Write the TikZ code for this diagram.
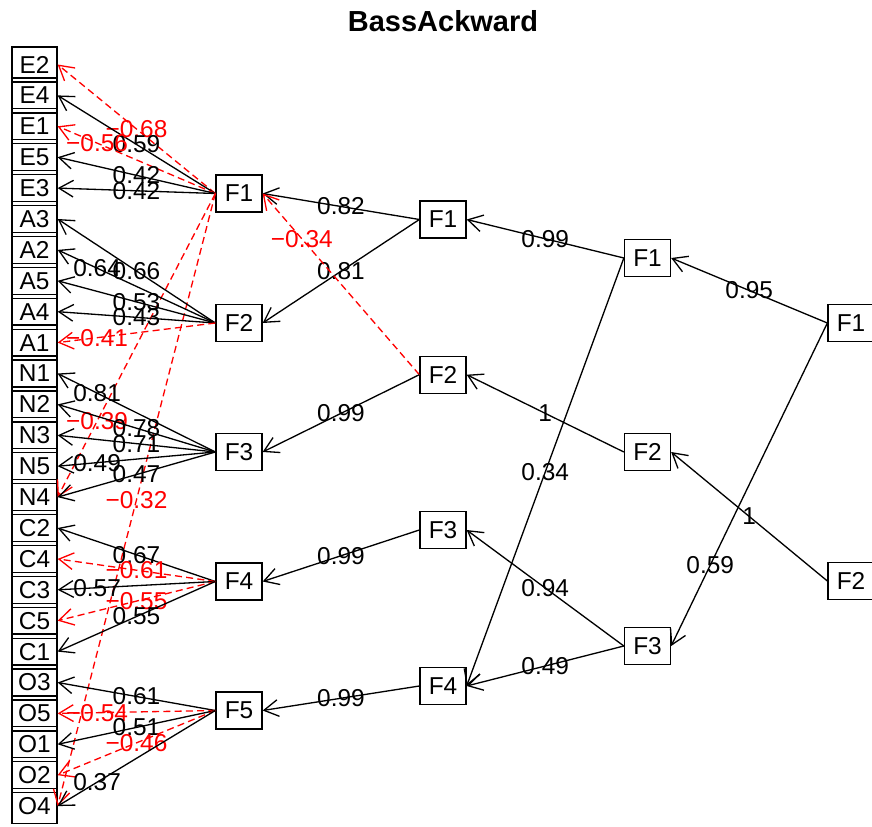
\documentclass[tikz,border=0pt]{standalone}
\usepackage{fontspec}
\setmainfont{Liberation Sans}
\usetikzlibrary{arrows.meta}

\begin{document}
\begin{tikzpicture}[x=0.02cm,y=-0.02cm,line width=0.75pt,font=\fontsize{13.9}{16}\selectfont]
	\tikzstyle{item}=[draw,inner sep=0pt,minimum width=0.9cm,minimum height=0.7cm];
	\tikzstyle{fac}=[draw,inner sep=0pt,minimum width=0.92cm,minimum height=0.74cm];
	\tikzstyle{load}=[-{Straight Barb[length=8.2pt,width=9.5pt]}];
	\tikzstyle{neg}=[load,red,dash pattern=on 4pt off 2.4pt];
%<--------------------------------------------------------------------------->%

	\path[use as bounding box,clip] (0,0) rectangle (872,827);
	\node[font=\fontsize{16.5}{20}\selectfont\bfseries] (title) at (443,21) {BassAckward};
	%% Items
	\node[item] (E2) at (34.5,64.5)  {E2};
	\node[item] (E4) at (34.5,95.4)  {E4};
	\node[item] (E1) at (34.5,126.3) {E1};
	\node[item] (E5) at (34.5,157.2) {E5};
	\node[item] (E3) at (34.5,188.1) {E3};
	\node[item] (A3) at (34.5,219.0) {A3};
	\node[item] (A2) at (34.5,249.9) {A2};
	\node[item] (A5) at (34.5,280.8) {A5};
	\node[item] (A4) at (34.5,311.7) {A4};
	\node[item] (A1) at (34.5,342.6) {A1};
	\node[item] (N1) at (34.5,373.5) {N1};
	\node[item] (N2) at (34.5,404.4) {N2};
	\node[item] (N3) at (34.5,435.3) {N3};
	\node[item] (N5) at (34.5,466.2) {N5};
	\node[item] (N4) at (34.5,497.1) {N4};
	\node[item] (C2) at (34.5,528.0) {C2};
	\node[item] (C4) at (34.5,558.9) {C4};
	\node[item] (C3) at (34.5,589.8) {C3};
	\node[item] (C5) at (34.5,620.7) {C5};
	\node[item] (C1) at (34.5,651.6) {C1};
	\node[item] (O3) at (34.5,682.5) {O3};
	\node[item] (O5) at (34.5,713.4) {O5};
	\node[item] (O1) at (34.5,744.3) {O1};
	\node[item] (O2) at (34.5,775.2) {O2};
	\node[item] (O4) at (34.5,806.1) {O4};
	%% Factors
	\node[fac] (L5F1) at (239,193.5) {F1};
	\node[fac] (L5F2) at (239,323)   {F2};
	\node[fac] (L5F3) at (239,452)   {F3};
	\node[fac] (L5F4) at (239,581.5) {F4};
	\node[fac] (L5F5) at (239,710.5) {F5};
	\node[fac] (L4F1) at (443,219.5) {F1};
	\node[fac] (L4F2) at (443,374.7) {F2};
	\node[fac] (L4F3) at (443,530)   {F3};
	\node[fac] (L4F4) at (443,686)   {F4};
	\node[fac] (L3F1) at (647.5,258) {F1};
	\node[fac] (L3F2) at (647.5,452) {F2};
	\node[fac] (L3F3) at (647.5,646) {F3};
	\node[fac] (L2F1) at (851,323)   {F1};
	\node[fac] (L2F2) at (851,581)   {F2};
	%% Level 2 to 3
	\draw[load] (L2F1.west) -- node{0.95} (L3F1.east);
	\draw[load] (L2F1.west) -- node[pos=.75]{0.59} (L3F3.east);
	\draw[load] (L2F2.west) -- node{1} (L3F2.east);
	%% Level 3 to 4
	\draw[load] (L3F1.west) -- node{0.99} (L4F1.east);
	\draw[load] (L3F1.west) -- node{0.34} (L4F4.east);
	\draw[load] (L3F2.west) -- node{1} (L4F2.east);
	\draw[load] (L3F3.west) -- node{0.94} (L4F3.east);
	\draw[load] (L3F3.west) -- node{0.49} (L4F4.east);
	%% Level 4 to 5
	\draw[load] (L4F1.west) -- node{0.82} (L5F1.east);
	\draw[load] (L4F1.west) -- node{0.81} (L5F2.east);
	\draw[neg]  (L4F2.west) -- node[pos=.75]{−0.34} (L5F1.east);
	\draw[load] (L4F2.west) -- node{0.99} (L5F3.east);
	\draw[load] (L4F3.west) -- node{0.99} (L5F4.east);
	\draw[load] (L4F4.west) -- node{0.99} (L5F5.east);
	%% Level 5 to items
	\draw[neg]  (L5F1.west) -- node{−0.68} (E2.east);
	\draw[load] (L5F1.west) -- node{0.59} (E4.east);
	\draw[neg]  (L5F1.west) -- node[pos=.75]{−0.56} (E1.east);
	\draw[load] (L5F1.west) -- node{0.42} (E5.east);
	\draw[load] (L5F1.west) -- node{0.42} (E3.east);
	\draw[neg]  (L5F1.west) -- node[pos=.75]{−0.39} (N4.east);
	\draw[neg]  (L5F1.west) -- node{−0.32} (O4.east);
	\draw[load] (L5F2.west) -- node{0.66} (A3.east);
	\draw[load] (L5F2.west) -- node[pos=.75]{0.64} (A2.east);
	\draw[load] (L5F2.west) -- node{0.53} (A5.east);
	\draw[load] (L5F2.west) -- node{0.43} (A4.east);
	\draw[neg]  (L5F2.west) -- node[pos=.75]{−0.41} (A1.east);
	\draw[load] (L5F3.west) -- node[pos=.75]{0.81} (N1.east);
	\draw[load] (L5F3.west) -- node{0.78} (N2.east);
	\draw[load] (L5F3.west) -- node{0.71} (N3.east);
	\draw[load] (L5F3.west) -- node[pos=.75]{0.49} (N5.east);
	\draw[load] (L5F3.west) -- node{0.47} (N4.east);
	\draw[load] (L5F4.west) -- node{0.67} (C2.east);
	\draw[neg]  (L5F4.west) -- node{−0.61} (C4.east);
	\draw[load] (L5F4.west) -- node[pos=.75]{0.57} (C3.east);
	\draw[neg]  (L5F4.west) -- node{−0.55} (C5.east);
	\draw[load] (L5F4.west) -- node{0.55} (C1.east);
	\draw[load] (L5F5.west) -- node{0.61} (O3.east);
	\draw[neg]  (L5F5.west) -- node[pos=.75]{−0.54} (O5.east);
	\draw[load] (L5F5.west) -- node{0.51} (O1.east);
	\draw[neg]  (L5F5.west) -- node{−0.46} (O2.east);
	\draw[load] (L5F5.west) -- node[pos=.75]{0.37} (O4.east);
\end{tikzpicture}
\end{document}
